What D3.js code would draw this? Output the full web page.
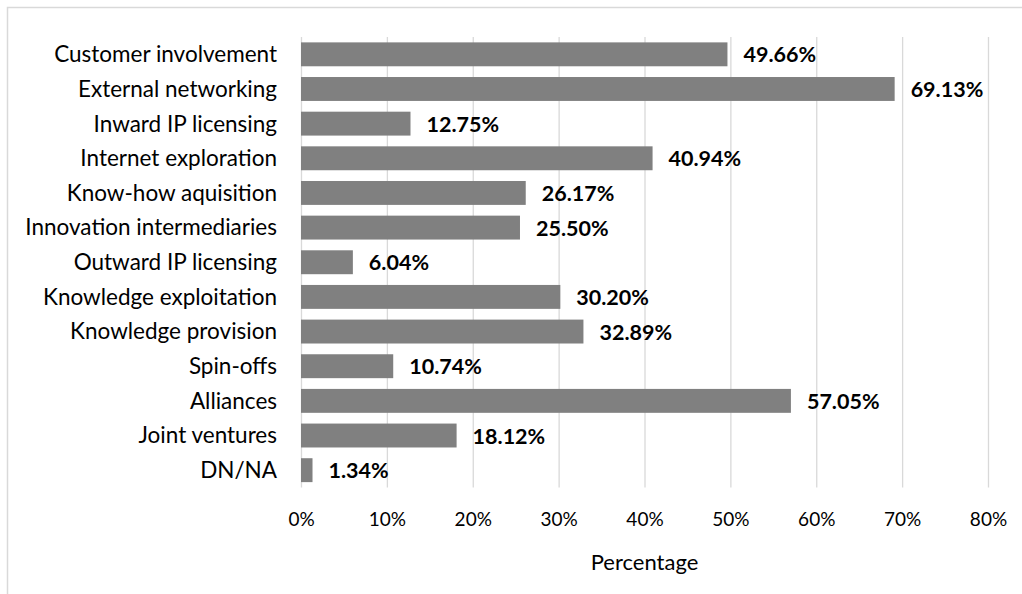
<!DOCTYPE html>
<html>
<head>
<meta charset="utf-8">
<script src="https://cdn.jsdelivr.net/npm/d3@7"></script>
<style>
  html, body { margin: 0; padding: 0; background: #fff; }
  svg { display: block; }
  text { font-family: Lato, "Open Sans", sans-serif; fill: #000; }
</style>
</head>
<body>
<svg id="chart" width="1022" height="594"></svg>
<script>
// Open innovation practices and the share of firms using each
const categories = [
  "Customer involvement",
  "External networking",
  "Inward IP licensing",
  "Internet exploration",
  "Know-how aquisition",
  "Innovation intermediaries",
  "Outward IP licensing",
  "Knowledge exploitation",
  "Knowledge provision",
  "Spin-offs",
  "Alliances",
  "Joint ventures",
  "DN/NA"
];
const values = [49.66, 69.13, 12.75, 40.94, 26.17, 25.50, 6.04, 30.20, 32.89, 10.74, 57.05, 18.12, 1.34];
const tickValues = [0, 10, 20, 30, 40, 50, 60, 70, 80];
const axisTitle = "Percentage";

const svg = d3.select("#chart");
const W = 1022, H = 594;
const plot = { left: 301, right: 988, top: 37, bottom: 487.5 };

// chart frame (right and bottom edges fall outside the view)
svg.append("rect")
  .attr("x", 7.5).attr("y", 7.5)
  .attr("width", W + 10).attr("height", H + 10)
  .attr("fill", "none").attr("stroke", "#d9d9d9").attr("stroke-width", 1.5);

const x = d3.scaleLinear().domain([0, 80]).range([plot.left, plot.right]);
const y = d3.scaleBand().domain(categories).range([plot.top, plot.bottom]).paddingInner(0.31).paddingOuter(0.155);

// vertical gridlines
const grid = d3.axisBottom(x).tickValues(tickValues).tickSize(-(plot.bottom - plot.top)).tickFormat("");
svg.append("g")
  .attr("transform", `translate(0,${plot.bottom})`)
  .call(grid)
  .call(g => g.select(".domain").remove())
  .call(g => g.selectAll("line").attr("stroke", "#d9d9d9").attr("stroke-width", 1.3));

// bars
svg.append("g").selectAll("rect")
  .data(values)
  .join("rect")
  .attr("x", x(0))
  .attr("y", (d, i) => y(categories[i]))
  .attr("width", d => x(d) - x(0))
  .attr("height", y.bandwidth())
  .attr("fill", "#808080");

// value labels
svg.append("g").selectAll("text")
  .data(values)
  .join("text")
  .attr("x", d => x(d) + 16)
  .attr("y", (d, i) => y(categories[i]) + y.bandwidth() / 2 + 8)
  .attr("font-size", 21.5)
  .attr("font-weight", "bold")
  .text(d => d.toFixed(2) + "%");

// category axis labels
const yAxis = d3.axisLeft(y).tickSize(0).tickPadding(24);
svg.append("g")
  .attr("transform", `translate(${plot.left},0)`)
  .call(yAxis)
  .call(g => g.select(".domain").remove())
  .call(g => g.selectAll("text")
    .attr("font-size", 22.5)
    .attr("font-family", "Lato, sans-serif")
    .attr("fill", "#000")
    .attr("dy", "0.35em"));

// percentage axis labels
const xAxis = d3.axisBottom(x).tickValues(tickValues).tickSize(0).tickPadding(25).tickFormat(d => d + "%");
svg.append("g")
  .attr("transform", `translate(0,${plot.bottom})`)
  .call(xAxis)
  .call(g => g.select(".domain").remove())
  .call(g => g.selectAll("text")
    .attr("font-size", 19)
    .attr("font-family", "Lato, sans-serif")
    .attr("fill", "#000"));

// axis title
svg.append("text")
  .attr("x", (plot.left + plot.right) / 2)
  .attr("y", 570)
  .attr("text-anchor", "middle")
  .attr("font-size", 22)
  .text(axisTitle);
</script>
</body>
</html>
